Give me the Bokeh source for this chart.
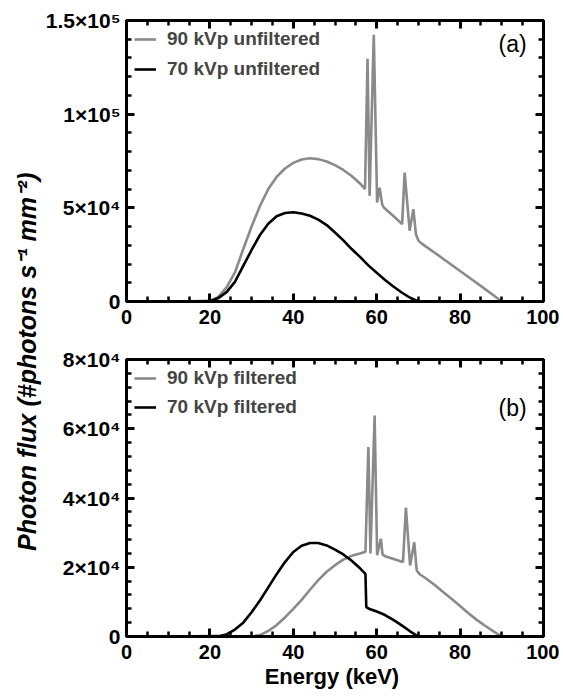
from bokeh.plotting import figure
from bokeh.models import (Range1d, SingleIntervalTicker, LinearAxis, Label, Legend,
                          LegendItem)
from bokeh.layouts import row, column
from bokeh.embed import file_html
from bokeh.resources import INLINE

# ---------------- data ----------------
# (a) unfiltered spectra
energy_90_unf = [10, 20, 22, 24, 26, 28, 30, 32, 34, 36, 38, 40, 42, 44, 46, 48, 50, 52, 54, 56,
                 57.2, 57.8, 58.3, 59.3, 60.1, 60.7, 61.3, 61.7, 64, 66.1, 66.7, 67.9, 68.8, 69.4,
                 70, 70.8, 72, 74, 76, 78, 80, 82, 84, 86, 88, 90]
flux_90_unf = [0, 300, 2500, 7500, 15500, 28000, 40000, 51000, 60000, 66500, 71000, 74000, 75800,
               76500, 76000, 74700, 72800, 70200, 67000, 63000,
               60000, 129600, 56400, 142400, 52800, 60800, 52000, 50200, 45600, 41300, 68800,
               37800, 49300, 36000, 32500, 30900, 29000, 25900, 22700, 19500, 16300, 13100,
               9900, 6600, 3300, 0]

energy_70_unf = [10, 20, 22, 24, 26, 28, 30, 32, 34, 36, 38, 40, 42, 44, 46, 48, 50, 52, 54, 56,
                 58, 60, 62, 64, 66, 68, 70]
flux_70_unf = [0, 200, 1800, 5000, 10500, 19000, 27500, 35500, 41500, 45500, 47200, 47600, 47000,
               45800, 43700, 40800, 36800, 32600, 28000, 23800, 19300, 15300, 11500, 8000, 4800,
               2000, 0]

# (b) filtered spectra
energy_90_fil = [10, 30, 32, 34, 36, 38, 40, 42, 44, 46, 48, 50, 52, 54, 56, 57.3, 58.0, 58.5,
                 59.5, 60.1, 61.0, 61.4, 62, 66.3, 67.0, 68.0, 69.0, 69.6, 70.4, 72, 74, 76, 78,
                 80, 82, 84, 86, 88, 90]
flux_90_fil = [0, 0, 400, 1600, 3300, 5500, 8000, 10600, 13500, 16300, 18700, 20600, 22200, 23300,
               24000, 24500, 54700, 24000, 63800, 23500, 28200, 23700, 23200, 21500, 37200, 20500,
               27200, 19000, 17900, 16600, 14800, 12800, 10800, 8800, 6700, 4800, 3100, 1500, 0]

energy_70_fil = [10, 22, 24, 26, 28, 30, 32, 34, 36, 38, 40, 42, 44, 46, 48, 50, 52, 54, 56, 57.3,
                 57.5, 58, 60, 62, 64, 66, 68, 70]
flux_70_fil = [0, 100, 600, 2000, 4000, 7000, 10400, 14200, 18000, 21500, 24400, 26200, 27000,
               27000, 26300, 25100, 23700, 21900, 19700, 18100, 8500, 8100, 7200, 6200, 4800,
               3200, 1500, 0]

series_labels_a = ["90 kVp unfiltered", "70 kVp unfiltered"]
series_labels_b = ["90 kVp filtered", "70 kVp filtered"]
ticks_a = {0: "0", 50000: "5×10⁴", 100000: "1×10⁵", 150000: "1.5×10⁵"}
ticks_b = {0: "0", 20000: "2×10⁴", 40000: "4×10⁴", 60000: "6×10⁴", 80000: "8×10⁴"}
x_label = "Energy  (keV)"
y_label = "Photon flux (#photons s⁻¹ mm⁻²)"

# ---------------- styling ----------------
FONT = "Liberation Sans"
GRAY = "#8a8a8a"
BLACK = "#000000"
LW = 2.6


def style_axis(ax, ticker, show_labels=True, overrides=None, font_size="20px"):
    ax.ticker = ticker
    ax.axis_line_width = 3
    ax.axis_line_color = "black"
    ax.major_tick_in = 8
    ax.major_tick_out = 0
    ax.minor_tick_in = 5
    ax.minor_tick_out = 0
    ax.major_tick_line_width = 3
    ax.minor_tick_line_width = 2.5
    ax.major_tick_line_color = "black"
    ax.minor_tick_line_color = "black"
    ax.major_label_text_font = FONT
    ax.major_label_text_font_style = "bold"
    ax.major_label_text_font_size = font_size
    if show_labels:
        ax.major_label_text_color = "black"
        if overrides is not None:
            ax.major_label_overrides = overrides
    else:
        ax.major_label_text_color = None
        ax.major_label_standoff = 0


def make_panel(height, top, bottom, y_end, y_interval, y_overrides, xs, ys, labels, tag,
               tag_y, legend_spacing, legend_padding):
    p = figure(width=517, height=height, x_range=Range1d(0, 100), y_range=Range1d(0, y_end),
               output_backend="svg", toolbar_location=None,
               min_border_left=80, min_border_right=16, min_border_top=top,
               min_border_bottom=bottom)
    p.xgrid.visible = False
    p.ygrid.visible = False
    p.outline_line_color = "black"
    p.outline_line_width = 3

    bottom_ax = p.below[0]
    left_ax = p.left[0]
    style_axis(bottom_ax, SingleIntervalTicker(interval=20, num_minor_ticks=4))
    bottom_ax.major_label_standoff = 8
    style_axis(left_ax, SingleIntervalTicker(interval=y_interval, num_minor_ticks=5),
               overrides=y_overrides, font_size="21px")
    left_ax.major_label_standoff = 6

    top_ax = LinearAxis()
    style_axis(top_ax, SingleIntervalTicker(interval=20, num_minor_ticks=4), show_labels=False)
    p.add_layout(top_ax, "above")
    right_ax = LinearAxis()
    style_axis(right_ax, SingleIntervalTicker(interval=y_interval, num_minor_ticks=5),
               show_labels=False)
    p.add_layout(right_ax, "right")

    r_gray = p.line(xs[0], ys[0], line_color=GRAY, line_width=LW)
    r_black = p.line(xs[1], ys[1], line_color=BLACK, line_width=LW)

    legend = Legend(items=[LegendItem(label=labels[0], renderers=[r_gray]),
                           LegendItem(label=labels[1], renderers=[r_black])],
                    location="top_left", border_line_color=None, background_fill_alpha=0,
                    label_text_font=FONT, label_text_font_style="bold",
                    label_text_font_size="19px", glyph_width=22, glyph_height=20,
                    label_standoff=11, spacing=legend_spacing, padding=legend_padding,
                    margin=8)
    p.add_layout(legend)

    p.add_layout(Label(x=92.6, y=tag_y, text=tag, text_font=FONT, text_font_size="23px",
                       text_align="center", text_baseline="middle", text_color="black"))
    return p, bottom_ax


p1, _ = make_panel(341, 20, 40, 150000, 50000, ticks_a,
                   [energy_90_unf, energy_70_unf], [flux_90_unf, flux_70_unf],
                   series_labels_a, "(a)", 137500, 8, 9)
p2, p2_bottom = make_panel(351, 18, 56, 80000, 20000, ticks_b,
                           [energy_90_fil, energy_70_fil], [flux_90_fil, flux_70_fil],
                           series_labels_b, "(b)", 66000, 7, 5)
p2_bottom.axis_label = x_label
p2_bottom.axis_label_text_font = FONT
p2_bottom.axis_label_text_font_style = "bold"
p2_bottom.axis_label_text_font_size = "22px"
p2_bottom.axis_label_text_color = "black"
p2_bottom.axis_label_standoff = 2

yl = figure(width=42, height=692, x_range=Range1d(0, 1), y_range=Range1d(0, 1),
            output_backend="svg", toolbar_location=None, min_border=0,
            x_axis_location=None, y_axis_location=None, outline_line_color=None)
yl.xgrid.visible = False
yl.ygrid.visible = False
yl.add_layout(Label(x=0.64, y=0.478, text=y_label, angle=90, angle_units="deg",
                    text_align="center", text_baseline="middle", text_font=FONT,
                    text_font_style="bold italic", text_font_size="25px", text_color="black"))

layout = row(yl, column(p1, p2))
open("out.html", "w").write(file_html(layout, INLINE))
